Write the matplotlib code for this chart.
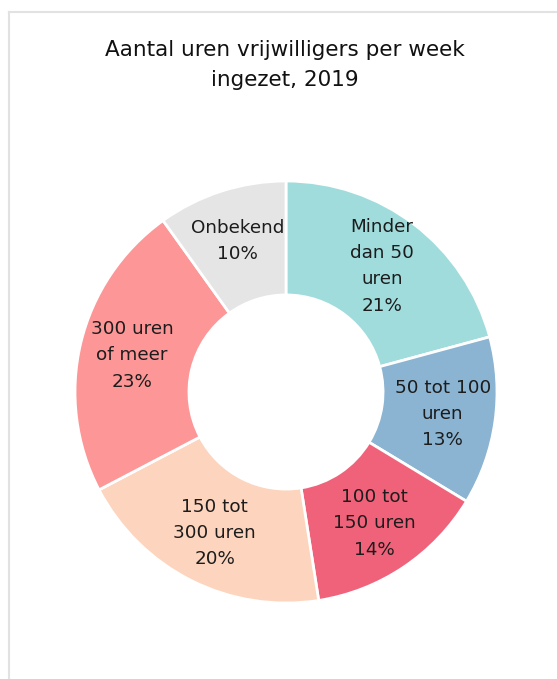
import matplotlib.pyplot as plt
from matplotlib.lines import Line2D

categorieen = ['Minder\ndan 50\nuren', '50 tot 100\nuren', '100 tot\n150 uren',
               '150 tot\n300 uren', '300 uren\nof meer', 'Onbekend']
percentages = [21, 13, 14, 20, 23, 10]
kleuren = ['#a0dcdc', '#8ab4d2', '#f0627a', '#fdd4bd', '#fd9696', '#e4e5e4']

titel = 'Aantal uren vrijwilligers per week\ningezet, 2019'

fig = plt.figure(figsize=(5.57, 6.79), dpi=100)

# lichte kaderlijnen boven en links
fig.add_artist(Line2D([9 / 557, 1], [1 - 12 / 679, 1 - 12 / 679], color='#e2e2e2', lw=1.5))
fig.add_artist(Line2D([9 / 557, 9 / 557], [0, 1 - 12 / 679], color='#e2e2e2', lw=1.5))

ax = fig.add_axes([75 / 557, 76 / 679, 422 / 557, 422 / 679])

labels = [f'{c}\n{p}%' for c, p in zip(categorieen, percentages)]
ax.pie(percentages, labels=labels, colors=kleuren, startangle=90, counterclock=False,
       radius=1, labeldistance=0.75,
       wedgeprops={'width': 0.54, 'edgecolor': 'white', 'linewidth': 2},
       textprops={'ha': 'center', 'va': 'center', 'multialignment': 'center',
                  'fontsize': 13.2, 'color': '#1c1c1c', 'linespacing': 1.58})
ax.set_xlim(-1, 1)
ax.set_ylim(-1, 1)
ax.set_aspect('equal')
ax.axis('off')

fig.text(285 / 557, 1 - 65 / 679, titel, ha='center', va='center', fontsize=15.5,
         color='#111111', linespacing=1.6)

fig.savefig('out.png', dpi=100)
